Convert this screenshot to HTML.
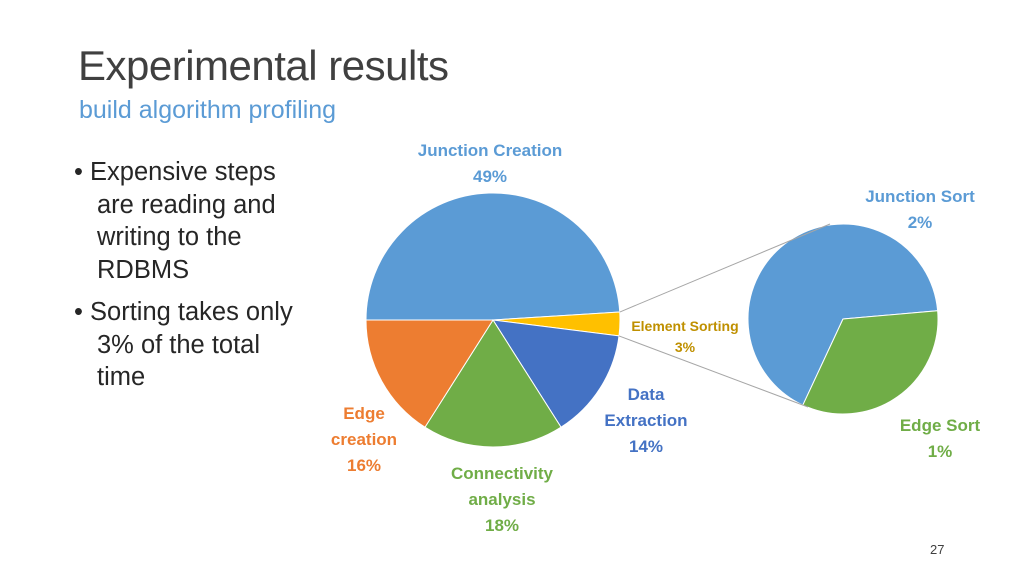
<!DOCTYPE html>
<html><head><meta charset="utf-8"><style>
body{margin:0;width:1024px;height:576px;background:#fff;overflow:hidden;position:relative;font-family:"Liberation Sans",Calibri,sans-serif}
.t{position:absolute}
</style></head><body>
<div class="t" style="left:78px;top:42px;font-size:42px;color:#404040;letter-spacing:-0.5px">Experimental results</div>
<div class="t" style="left:79px;top:96px;font-size:25px;color:#5B9BD5">build algorithm profiling</div>
<div class="t" style="left:74px;top:156px;font-size:25.5px;color:#262626;line-height:32.5px;width:240px">
<div style="padding-left:23px;text-indent:-23px">• Expensive steps are reading and writing to the RDBMS</div>
<div style="padding-left:23px;text-indent:-23px;margin-top:10px">• Sorting takes only 3% of the total time</div>
</div>
<svg id="chart" width="1024" height="576" style="position:absolute;left:0;top:0" font-family="Liberation Sans, sans-serif" font-weight="bold"></svg>
<div class="t" style="left:930px;top:542px;font-size:13px;color:#404040">27</div>
<script>
const categories=["Junction Creation","Element Sorting","Data Extraction","Connectivity analysis","Edge creation"];
const values=[49,3,14,18,16];
const colors=["#5B9BD5","#FFC000","#4472C4","#70AD47","#ED7D31"];
const subCategories=["Junction Sort","Edge Sort"];
const subValues=[2,1];
const subColors=["#5B9BD5","#70AD47"];
const svg=document.getElementById('chart');
const NS='http://www.w3.org/2000/svg';
function pt(cx,cy,r,a){const t=a*Math.PI/180;return [cx+r*Math.cos(t),cy+r*Math.sin(t)];}
function slice(cx,cy,r,a0,a1,fill,name){
 const p=document.createElementNS(NS,'path');
 const [x0,y0]=pt(cx,cy,r,a0),[x1,y1]=pt(cx,cy,r,a1);
 p.setAttribute('d',`M${cx},${cy}L${x0},${y0}A${r},${r} 0 ${a1-a0>180?1:0} 1 ${x1},${y1}Z`);
 p.setAttribute('fill',fill);p.setAttribute('stroke','#fff');p.setAttribute('stroke-width','1');
 
 
 svg.appendChild(p);return p;}
const cx=493,cy=320,R=127;
const total=values.reduce((a,b)=>a+b,0);
let a=180;const angs=[];
values.forEach((v,i)=>{const s=v/total*360;angs.push([a,a+s]);
 slice(cx,cy,R,a,a+s,colors[i],'slice-'+categories[i].toLowerCase().replace(/ /g,'-'));a+=s;});
const scx=843,scy=319,sR=95;
const st=subValues.reduce((a,b)=>a+b,0);
let b=-5+subValues[1]/st*360;
// blue first (after green), green from -5
let g0=-5,g1=-5+subValues[1]/st*360;
slice(scx,scy,sR,g1,g1+subValues[0]/st*360,subColors[0],'sub-slice-junction-sort');
slice(scx,scy,sR,g0,g1,subColors[1],'sub-slice-edge-sort');
// connector lines from element sorting slice
const es=angs[1];
const [ax,ay]=pt(cx,cy,R,es[0]),[bx,by]=pt(cx,cy,R,es[1]);
[[ax,ay,830,224],[bx,by,808,407]].forEach((l,i)=>{const ln=document.createElementNS(NS,'line');
 ln.setAttribute('x1',l[0]);ln.setAttribute('y1',l[1]);ln.setAttribute('x2',l[2]);ln.setAttribute('y2',l[3]);
 ln.setAttribute('stroke','#a6a6a6');ln.setAttribute('stroke-width','1');
 
 
 svg.appendChild(ln);});
const labels=[
 [["Junction Creation",values[0]+"%"],490,150,"#5B9BD5",17,26],
 [["Element Sorting",values[1]+"%"],685,325,"#BF9000",14,21],
 [["Data","Extraction",values[2]+"%"],646,394,"#4472C4",17,26],
 [["Connectivity","analysis",values[3]+"%"],502,473,"#70AD47",17,26],
 [["Edge","creation",values[4]+"%"],364,413,"#ED7D31",17,26],
 [[subCategories[0],subValues[0]+"%"],920,196,"#5B9BD5",17,26],
 [[subCategories[1],subValues[1]+"%"],940,425,"#70AD47",17,26]];
labels.forEach(L=>{const t=document.createElementNS(NS,'text');
 t.setAttribute('text-anchor','middle');t.setAttribute('fill',L[3]);t.setAttribute('font-size',L[4]);
 
 
 L[0].forEach((s,i)=>{const sp=document.createElementNS(NS,'tspan');sp.setAttribute('x',L[1]);sp.setAttribute('y',L[2]+6+i*L[5]);sp.textContent=s;t.appendChild(sp);});
 svg.appendChild(t);});
</script>
</body></html>
